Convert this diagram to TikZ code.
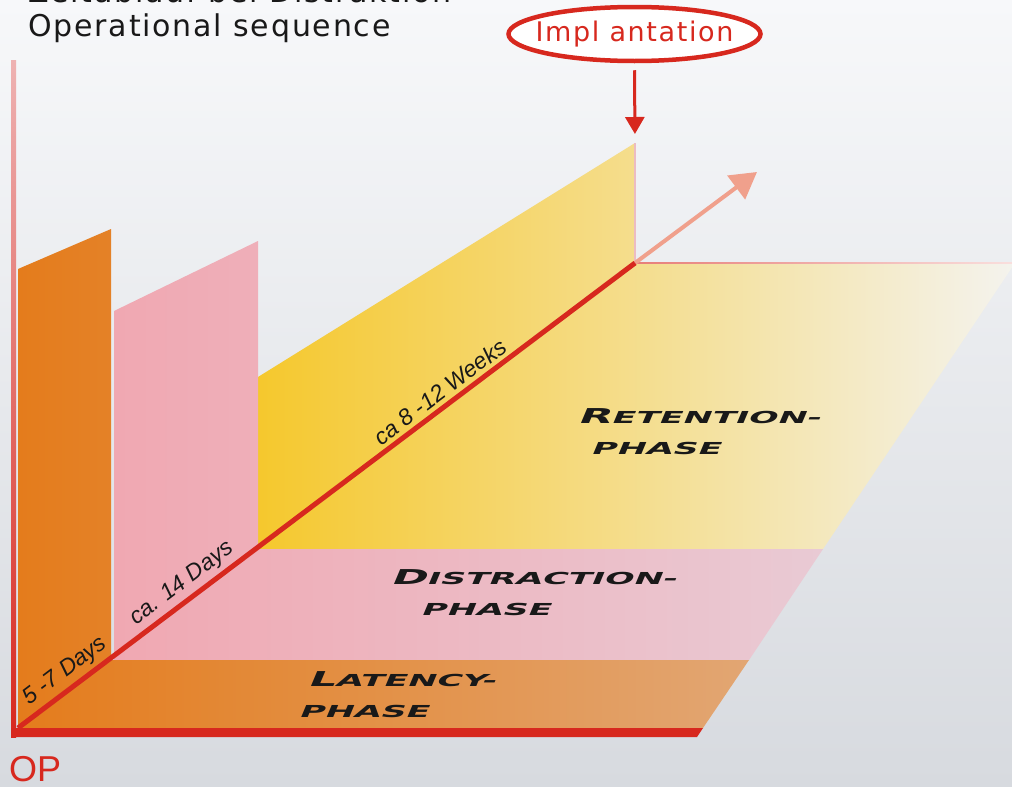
\documentclass[tikz,border=0pt]{standalone}
\usepackage{fontspec}
\setmainfont{DejaVu Sans}
\newfontfamily\titlefont[LetterSpace=6]{DejaVu Sans}
\newfontfamily\daysfont{Liberation Sans}
\newfontfamily\phasefont[FakeStretch=2.1,FakeSlant=0.42]{DejaVu Sans}
\usetikzlibrary{arrows.meta,positioning,shapes.geometric}

\definecolor{bgtop}{RGB}{247,248,250}
\definecolor{bgbot}{RGB}{215,218,223}
\definecolor{opred}{RGB}{215,40,30}
\definecolor{axtop}{RGB}{238,178,178}
\definecolor{orgA}{RGB}{228,124,28}
\definecolor{orgB}{RGB}{226,166,115}
\definecolor{pinkA}{RGB}{240,168,178}
\definecolor{pinkB}{RGB}{233,202,212}
\definecolor{yelA}{RGB}{245,200,45}
\definecolor{yelM}{RGB}{241,222,140}
\definecolor{yelB}{RGB}{244,243,238}
\definecolor{arrowpink}{RGB}{240,160,140}
\definecolor{ink}{RGB}{25,25,25}
\definecolor{wallline}{RGB}{236,188,194}

\newcommand{\phasecap}{\fontsize{20.5}{20}\selectfont}

\begin{document}
\begin{tikzpicture}[
    x=1pt, y=-1pt,
    >=Stealth,
    axisline/.style={opred, line width=5pt},
    days/.style={font=\daysfont\itshape\fontsize{23}{25}\selectfont, text=ink, sloped, above=6pt, inner sep=0pt},
    phase/.style={font=\phasefont\bfseries\fontsize{16.5}{18}\selectfont, text=ink, anchor=base west, inner sep=0pt},
    heading/.style={font=\titlefont\fontsize{30}{32}\selectfont, text=ink, anchor=base west, inner sep=0pt}
]
  % Background
  \shade[top color=bgtop, bottom color=bgbot] (0,0) rectangle (1012,787);
  \useasboundingbox (0,0) rectangle (1012,787);

  % Heading
  \node[heading] (titlede) at (28,2) {Zeitablauf bei Distraktion};
  \node[heading] (title) at (28,36) {Operational sequence};

  % Points on the time axis
  \coordinate (op) at (18,728);
  \coordinate (impl) at (635,263);
  \coordinate (walltop) at (635,143);
  \coordinate (tip) at (757,172);

  % Retention phase (yellow)
  \shade[left color=yelA, middle color=yelM, right color=yelB]
    (258,377) -- (walltop) -- (impl) -- (1015,263) -- (823,549) -- (258,549) -- cycle;
  % Distraction phase (pink)
  \shade[left color=pinkA, right color=pinkB]
    (114,311) -- (258,241) -- (258,549) -- (823,549) -- (749,660) -- (114,660) -- cycle;
  % Latency phase (orange)
  \shade[left color=orgA, right color=orgB]
    (18,269) -- (111,229) -- (111,660) -- (749,660) -- (703,728) -- (18,728) -- cycle;

  % Thin edges at implantation
  \draw[wallline, line width=1.5pt] (walltop) -- (impl);
  \shade[left color=opred!60, right color=opred!15] (635,262.2) rectangle (1012,263.8);

  % Axes
  \shade[top color=axtop, bottom color=opred] (11,60) rectangle (16,737);
  \fill[opred] (11,728) -- (703,728) -- (697,737) -- (11,737) -- cycle;
  \node[font=\daysfont\fontsize{36}{38}\selectfont, text=opred, anchor=base west, inner sep=0pt] (oplabel) at (9,781) {OP};

  % Time axis
  \draw[-{Triangle[length=26pt,width=29pt]}, arrowpink, line width=4pt] (impl) -- (tip);
  \draw[axisline] (op) -- (impl);
  \path (op) -- (impl)
    node[days, pos=0.093] (short) {5 -7 Days}
    node[days, pos=0.282] (mid) {ca. 14 Days}
    node[days, pos=0.698] (long) {ca 8 -12 Weeks};

  % Implantation
  \node[ellipse, draw=opred, line width=4.5pt, fill=white, minimum width=252pt, minimum height=54pt,
        inner sep=0pt, text=opred, font=\titlefont\fontsize{27}{29}\selectfont] (implant) at (634.5,34)
        {\makebox[0pt]{Impl antation}};
  \draw[-{Triangle[length=17pt,width=19pt]}, opred, line width=3pt, shorten >=9pt]
    ([yshift=-7pt]implant.south) -- (walltop);

  % Phase labels
  \node[phase] (ret) at (577,423) {{\phasecap R}ETENTION-};
  \node[phase] (retb) at (590,454) {PHASE};
  \node[phase] (dis) at (390,584) {{\phasecap D}ISTRACTION-};
  \node[phase] (disb) at (420,615) {PHASE};
  \node[phase] (lat) at (307,686) {{\phasecap L}ATENCY-};
  \node[phase] (latb) at (298,717) {PHASE};
\end{tikzpicture}
\end{document}
